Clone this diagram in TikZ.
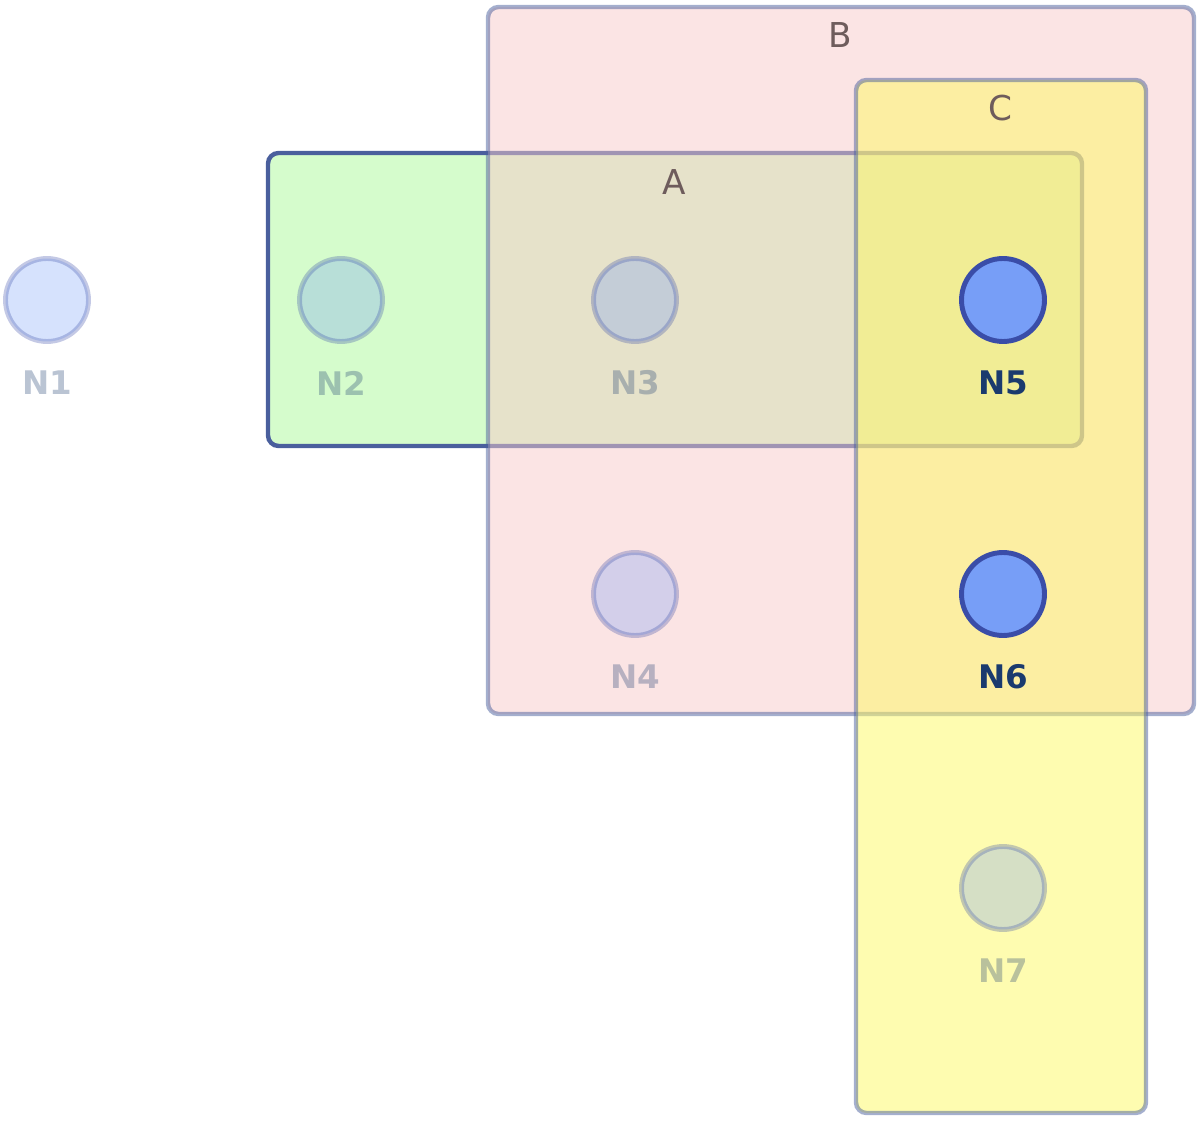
\documentclass[tikz,border=0pt]{standalone}
\usepackage{fontspec}
\setmainfont{DejaVu Sans}
\definecolor{edgeblue}{HTML}{4A5F9D}
\definecolor{afill}{HTML}{D5FCCC}
\definecolor{bfill}{RGB}{247,201,201}
\definecolor{cfill}{RGB}{253,249,97}
\definecolor{nodefill}{HTML}{779EF7}
\definecolor{nodeedge}{HTML}{3A4DA8}
\definecolor{labnavy}{HTML}{1A3A6E}
\definecolor{grplab}{HTML}{6E5C5C}
\tikzset{
  grp/.style={line width=2.5pt, rounded corners=6pt, draw=edgeblue},
  ghost/.style={opacity=0.5},
  vtx/.style={circle, draw=nodeedge, fill=nodefill, line width=2.8pt, minimum size=1.66cm, inner sep=0pt},
  faded/.style={opacity=0.3},
  lab/.style={text=labnavy, font=\bfseries\fontsize{18.5}{20}\selectfont, inner sep=0pt},
  glab/.style={text=grplab, font=\fontsize{19.5}{22}\selectfont, inner sep=0pt}
}
\begin{document}
\begin{tikzpicture}[x=0.02cm,y=-0.02cm]
\useasboundingbox (0,0) rectangle (1200,1121);
% groups
\draw[grp, fill=afill] (268,153) rectangle (1082,446);
\draw[grp, fill=bfill, ghost] (488,7) rectangle (1194,714);
\draw[grp, fill=cfill, ghost] (856,80) rectangle (1146,1113);
\node[glab] (ga) at (674,182) {A};
\node[glab] (gb) at (840,35) {B};
\node[glab] (gc) at (1000,108) {C};
% nodes
\node[vtx, faded] (n1) at (47,300) {};
\node[vtx, faded] (n2) at (341,300) {};
\node[vtx, faded] (n3) at (635,300) {};
\node[vtx, faded] (n4) at (635,594) {};
\node[vtx] (n5) at (1003,300) {};
\node[vtx] (n6) at (1003,594) {};
\node[vtx, faded] (n7) at (1003,888) {};
% labels
\node[lab, text opacity=0.3] (l1) at (47,383) {N1};
\node[lab, text opacity=0.3] (l2) at (341,383) {N2};
\node[lab, text opacity=0.3] (l3) at (635,383) {N3};
\node[lab, text opacity=0.3] (l4) at (635,677) {N4};
\node[lab] (l5) at (1003,383) {N5};
\node[lab] (l6) at (1003,677) {N6};
\node[lab, text opacity=0.3] (l7) at (1003,971) {N7};
\end{tikzpicture}
\end{document}
